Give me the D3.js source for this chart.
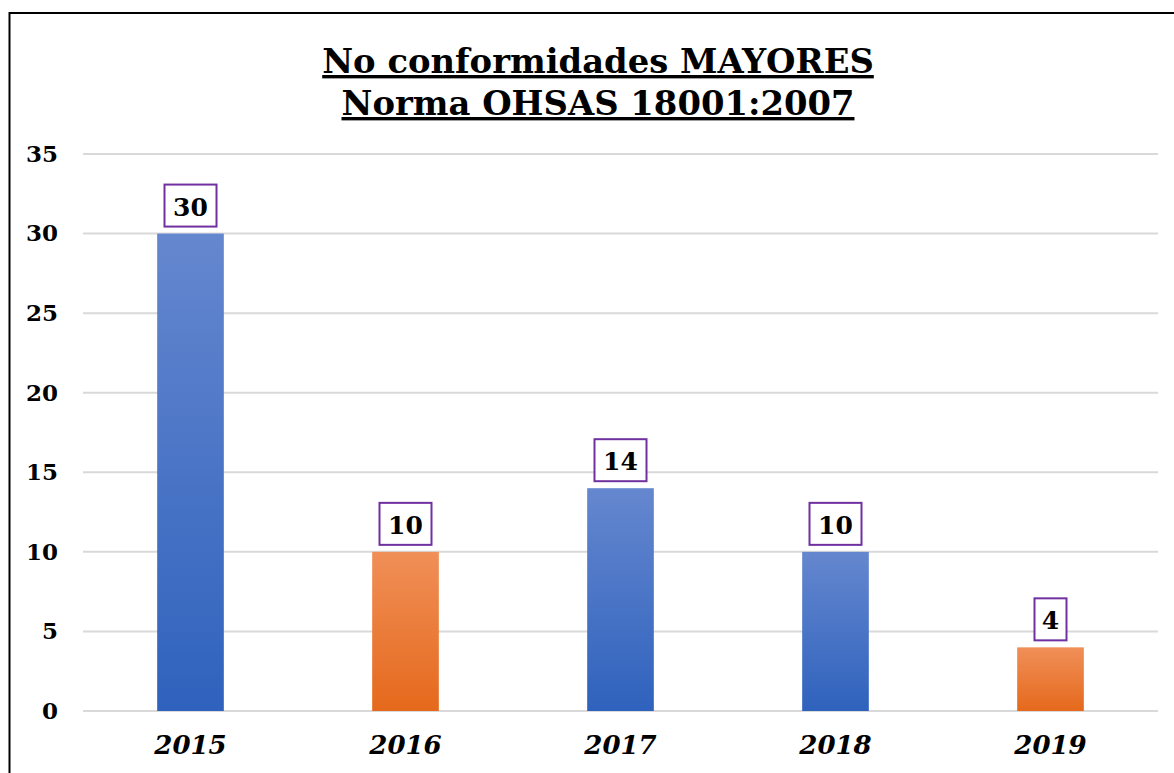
<!DOCTYPE html>
<html>
<head>
<meta charset="utf-8">
<script src="https://cdn.jsdelivr.net/npm/d3@7"></script>
<style>
  html, body { margin: 0; padding: 0; background: #fff; overflow: hidden; }
  text { font-family: "DejaVu Serif", serif; }
</style>
</head>
<body>
<div id="chart"></div>
<script>

// data
var years = ["2015", "2016", "2017", "2018", "2019"];
var values = [30, 10, 14, 10, 4];
var barColors = ["blue", "orange", "blue", "blue", "orange"];
var yTicks = [0, 5, 10, 15, 20, 25, 30, 35];
var titleLines = ["No conformidades MAYORES", "Norma OHSAS 18001:2007"];

var W = 1174, H = 773;
var margin = {top: 154, right: 16, bottom: 62, left: 83};
var width = W - margin.left - margin.right;
var height = H - margin.top - margin.bottom;

var svg = d3.select("#chart")
  .append("svg")
  .attr("width", W)
  .attr("height", H);

// gradients for the bars
var defs = svg.append("defs");
var grads = {
  blue: ["#6587cf", "#2f62bd"],
  orange: ["#f08f58", "#e5691c"]
};
Object.keys(grads).forEach(function(k) {
  var lg = defs.append("linearGradient")
    .attr("id", "grad-" + k)
    .attr("x1", 0).attr("y1", 0).attr("x2", 0).attr("y2", 1);
  lg.append("stop").attr("offset", "0%").attr("stop-color", grads[k][0]);
  lg.append("stop").attr("offset", "100%").attr("stop-color", grads[k][1]);
});

// outer frame (runs off the right and bottom edges)
svg.append("rect")
  .attr("x", 9.5).attr("y", 13)
  .attr("width", W + 20).attr("height", H + 20)
  .attr("fill", "none")
  .attr("stroke", "#000")
  .attr("stroke-width", 2);

// title
svg.selectAll(".title")
  .data(titleLines)
  .enter().append("text")
  .attr("class", "title")
  .attr("x", 598)
  .attr("y", function(d, i) { return 73 + i * 42; })
  .attr("text-anchor", "middle")
  .attr("font-size", "33.8px")
  .attr("font-weight", "bold")
  .attr("text-decoration", "underline")
  .attr("fill", "#000")
  .text(function(d) { return d; });

var g = svg.append("g")
  .attr("transform", "translate(" + margin.left + "," + margin.top + ")");

var x = d3.scaleBand()
  .domain(years)
  .range([0, width])
  .paddingInner(0.69)
  .paddingOuter(0.345);

var y = d3.scaleLinear()
  .domain([0, 35])
  .range([height, 0]);

// gridlines
g.selectAll(".grid")
  .data(yTicks)
  .enter().append("line")
  .attr("class", "grid")
  .attr("x1", 0).attr("x2", width)
  .attr("y1", function(d) { return y(d); })
  .attr("y2", function(d) { return y(d); })
  .attr("stroke", "#d9d9d9")
  .attr("stroke-width", 2);

// y axis
var yAxis = g.append("g")
  .call(d3.axisLeft(y).tickValues(yTicks).tickSize(0).tickPadding(25));
yAxis.select(".domain").remove();
yAxis.selectAll("text")
  .attr("font-size", "23px")
  .attr("font-weight", "bold")
  .attr("fill", "#000")
  .style("font-family", "DejaVu Serif");

// bars
g.selectAll(".bar")
  .data(values)
  .enter().append("rect")
  .attr("class", "bar")
  .attr("x", function(d, i) { return x(years[i]); })
  .attr("y", function(d) { return y(d); })
  .attr("width", x.bandwidth())
  .attr("height", function(d) { return height - y(d); })
  .attr("fill", function(d, i) { return "url(#grad-" + barColors[i] + ")"; });

// x axis
var xAxis = g.append("g")
  .attr("transform", "translate(0," + height + ")")
  .call(d3.axisBottom(x).tickSize(0).tickPadding(25));
xAxis.select(".domain").remove();
xAxis.selectAll("text")
  .attr("font-size", "26px")
  .attr("font-weight", "bold")
  .attr("font-style", "italic")
  .attr("fill", "#000")
  .style("font-family", "DejaVu Serif");

// value labels in boxes
var labels = g.selectAll(".lbl")
  .data(values)
  .enter().append("g")
  .attr("class", "lbl")
  .attr("transform", function(d, i) {
    return "translate(" + (x(years[i]) + x.bandwidth() / 2) + "," + (y(d) - 7) + ")";
  });

labels.append("rect")
  .attr("x", function(d) { return String(d).length > 1 ? -26 : -16; })
  .attr("y", -42)
  .attr("width", function(d) { return String(d).length > 1 ? 52 : 32; })
  .attr("height", 42)
  .attr("fill", "#fff")
  .attr("stroke", "#7030a0")
  .attr("stroke-width", 2);

labels.append("text")
  .attr("x", 0)
  .attr("y", -11)
  .attr("text-anchor", "middle")
  .attr("font-size", "25px")
  .attr("font-weight", "bold")
  .attr("fill", "#000")
  .text(function(d) { return d; });

</script>
</body>
</html>
